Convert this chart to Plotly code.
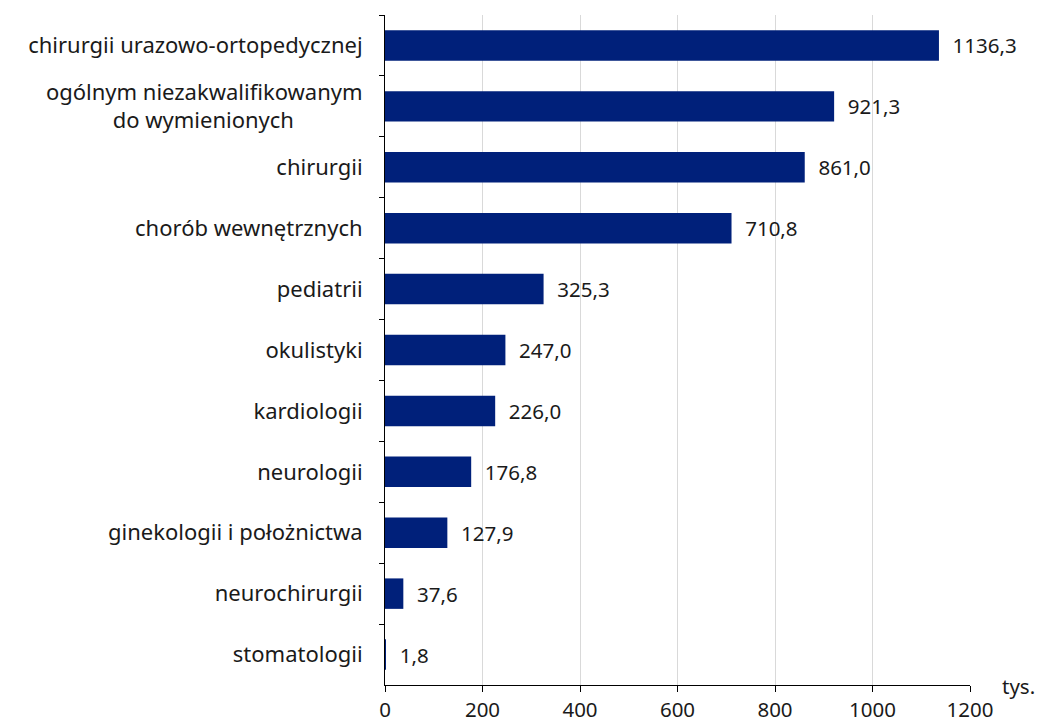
import plotly.graph_objects as go

categories = [
    "chirurgii urazowo-ortopedycznej",
    "ogólnym niezakwalifikowanym<br>do wymienionych" + "\u00a0" * 12,
    "chirurgii",
    "chorób wewnętrznych",
    "pediatrii",
    "okulistyki",
    "kardiologii",
    "neurologii",
    "ginekologii i położnictwa",
    "neurochirurgii",
    "stomatologii",
]
values = [1136.3, 921.3, 861.0, 710.8, 325.3, 247.0, 226.0, 176.8, 127.9, 37.6, 1.8]
labels = ["\u00a0\u00a0" + f"{v:.1f}".replace(".", ",") for v in values]
x_ticks = [0, 200, 400, 600, 800, 1000, 1200]

FONT = "Noto Sans"
TXT = "#1a1a1a"
fig = go.Figure(go.Bar(
    y=categories,
    x=values,
    orientation="h",
    marker=dict(color="#00207a", line=dict(width=0)),
    width=0.5,
    text=labels,
    textposition="outside",
    textfont=dict(family=FONT, size=20.5, color=TXT),
    cliponaxis=False,
))

fig.update_layout(
    width=1041, height=727,
    margin=dict(l=385, r=71, t=15, b=42),
    plot_bgcolor="white", paper_bgcolor="white",
    showlegend=False,
    font=dict(family=FONT, size=20.5, color=TXT),
)
fig.update_xaxes(
    range=[0, 1200], tickvals=x_ticks, ticktext=[str(t) for t in x_ticks],
    showgrid=True, gridcolor="#d9d9d9", gridwidth=1,
    showline=True, linecolor="#000000", linewidth=1,
    ticks="outside", ticklen=6, tickcolor="#000000",
    zeroline=False, tickfont=dict(size=20.5), automargin=False,
)
fig.update_yaxes(
    type="category", range=[10.5, -0.5],
    showline=True, linecolor="#000000", linewidth=1,
    ticks="outside", tickson="boundaries", ticklen=5, tickcolor="#000000",
    showgrid=False, zeroline=False,
    tickfont=dict(size=22), ticklabelstandoff=17, automargin=False,
)
fig.add_annotation(text="tys.", xref="paper", yref="paper", x=1.0, y=0.0,
                   xanchor="left", yanchor="middle", xshift=30, yshift=-1,
                   showarrow=False, font=dict(family=FONT, size=20.5, color=TXT))

fig.write_html("out.html",
               config={"displayModeBar": False},
               post_script="document.body.style.margin='0';document.body.style.overflow='hidden';")
